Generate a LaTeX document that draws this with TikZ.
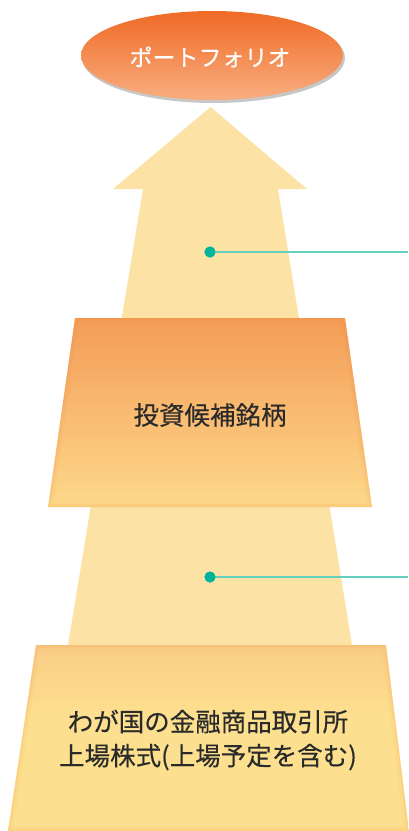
\documentclass[tikz,border=0pt]{standalone}
\usepackage{fontspec}
\newfontfamily\jp{Noto Sans CJK JP}[FakeBold=0.35]
\definecolor{shaftc}{HTML}{FDE2A6}
\definecolor{elltop}{HTML}{F06A26}
\definecolor{ellbot}{HTML}{F8AE80}
\definecolor{ttop}{HTML}{F49C57}
\definecolor{tbot}{HTML}{FDD98A}
\definecolor{uthreetop}{HTML}{F19E64}
\definecolor{uthreemid}{HTML}{FBD088}
\definecolor{uthreebot}{HTML}{FDE08F}
\definecolor{dotc}{HTML}{00B39B}
\definecolor{linec}{HTML}{62CFBF}
\definecolor{txt}{HTML}{2A2A2A}
\definecolor{glowc}{HTML}{EE8A3A}
\pgfdeclareverticalshading{trapthree}{100bp}{color(0bp)=(uthreebot); color(55bp)=(uthreebot); color(72bp)=(uthreemid); color(100bp)=(uthreetop)}
\begin{document}
\begin{tikzpicture}[x=1pt,y=-1pt,
  lbl/.style={font=\jp\fontsize{25.5}{34}\selectfont, text=txt, align=center, inner sep=0pt},
  dotnode/.style={circle, fill=dotc, minimum size=11pt, inner sep=0pt},
  leader/.style={draw=linec, line width=1.4pt}]
\useasboundingbox (0,0) rectangle (408,831);
% arrow
\fill[shaftc] (210.5,107) -- (307,189) -- (278,189) -- (352,645) -- (68,645) -- (143,189) -- (113,189) -- cycle;
% ellipse shadow
\foreach \o in {0.10,0.08,0.06}{
  \fill[black, opacity=\o] (213.5,58) ellipse [x radius=131.5, y radius=45];
}
\shade[top color=elltop, bottom color=ellbot] (212,55.5) ellipse [x radius=131, y radius=44.5];
\node[font=\jp\fontsize{23}{28}\selectfont, text=white, inner sep=0pt] (port) at (210,57) {ポートフォリオ};
% middle trapezoid
\shade[top color=ttop, bottom color=tbot] (75,318) -- (345,318) -- (372,507) -- (48,507) -- cycle;
\begin{scope}
  \clip (75,318) -- (345,318) -- (372,507) -- (48,507) -- cycle;
  \foreach \w/\o in {10/0.05,6/0.06,3/0.07}{
    \draw[line width=\w pt, draw=glowc, opacity=\o] (75,318) -- (345,318) -- (372,507) -- (48,507) -- cycle;
  }
\end{scope}
\node[lbl] (cand) at (210,415) {投資候補銘柄};
% bottom trapezoid
\shade[shading=trapthree] (36,645) -- (386,645) -- (409,831) -- (8,831) -- cycle;
\begin{scope}
  \clip (36,645) -- (386,645) -- (409,831) -- (8,831) -- cycle;
  \foreach \w/\o in {10/0.04,6/0.05,3/0.06}{
    \draw[line width=\w pt, draw=glowc, opacity=\o] (36,645) -- (386,645) -- (409,831) -- (8,831) -- cycle;
  }
\end{scope}
\node[lbl] (listed) at (208,740) {わが国の金融商品取引所\\上場株式(上場予定を含む)};
% leaders
\node[dotnode] (d1) at (210,252) {};
\coordinate (e1) at (408,252);
\draw[leader] (d1.center) -- (e1);
\node[dotnode] at (210,252) {};
\node[dotnode] (d2) at (210,577) {};
\coordinate (e2) at (408,577);
\draw[leader] (d2.center) -- (e2);
\node[dotnode] at (210,577) {};
\end{tikzpicture}
\end{document}
